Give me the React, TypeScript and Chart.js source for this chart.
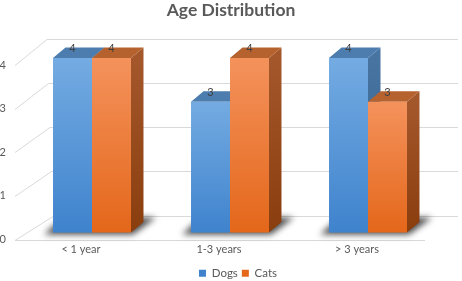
import React, { useEffect, useRef } from 'react';
import { Chart, registerables } from 'chart.js';

Chart.register(...registerables);

// ---- data ----
const chartTitle = 'Age Distribution';
const categories = ['< 1 year', '1-3 years', '> 3 years'];
const seriesNames = ['Dogs', 'Cats'];
const dogs = [4, 3, 4];
const cats = [4, 4, 3];
const yTicks = [0, 1, 2, 3, 4];
const seriesValues = [dogs, cats];

// ---- style ----
const FONT = 'Lato, "Open Sans", sans-serif';
const TEXT = '#595959';
const palettes = [
  { base: '#5b9bd5', light: '#74abe2', dark: '#3f83cd', top: '#4d7cae', sideTop: '#4874a2', sideBottom: '#325f8d' },
  { base: '#ed7d31', light: '#f4925c', dark: '#e4671a', top: '#b6622f', sideTop: '#a4572b', sideBottom: '#8a3d0d' },
];
const WALL = { dx: 41, dy: -25, persp: 1.5, yPersp: 0.5 };
const BAR_SHIFT = { dx: 11, dy: -7 };
const BAR_DEPTH = { dx: 12.5, dy: -10.5 };
const LEGEND_SHIFT = 7;

const frontFill = (i: number) => (c: any) => {
  const pal = palettes[i];
  if (c.type !== 'data') return pal.base;
  const chart = c.chart;
  const ys = chart.scales && chart.scales.y;
  if (!ys || !chart.chartArea) return pal.base;
  const top = ys.getPixelForValue(c.raw);
  const bottom = ys.getPixelForValue(0);
  const g = chart.ctx.createLinearGradient(0, top, 0, bottom);
  g.addColorStop(0, pal.light);
  g.addColorStop(1, pal.dark);
  return g;
};

const bar3d = {
  id: 'bar3d',
  afterLayout(chart: any) {
    const lg = chart.legend;
    if (lg) {
      lg.left += LEGEND_SHIFT;
      lg.right += LEGEND_SHIFT;
    }
  },
  beforeDatasetsDraw(chart: any) {
    const { ctx, chartArea: a } = chart;
    const ys = chart.scales.y;
    ctx.save();
    ctx.strokeStyle = '#d9d9d9';
    ctx.lineWidth = 1;
    yTicks.forEach((v) => {
      const fy = Math.round(ys.getPixelForValue(v)) + 0.5;
      const by = Math.round(fy + WALL.dy - v * WALL.yPersp) + 0.5;
      const bx = a.left + WALL.dx - WALL.persp * v;
      ctx.beginPath();
      ctx.moveTo(a.left + 3, fy);
      ctx.lineTo(bx, by);
      ctx.lineTo(chart.width - 4, by);
      ctx.stroke();
    });
    const y0 = Math.round(ys.getPixelForValue(0)) + 0.5;
    ctx.beginPath();
    ctx.moveTo(a.left + 3, y0);
    ctx.lineTo(a.right - 1, y0);
    ctx.stroke();
    ctx.restore();

    ctx.save();
    ctx.translate(BAR_SHIFT.dx, BAR_SHIFT.dy);
    const metas = seriesValues.map((_, i) => chart.getDatasetMeta(i));
    // shadows
    categories.forEach((_, j) => {
      let x0 = Infinity, x1 = -Infinity, base = 0;
      metas.forEach((m: any) => {
        const el = m.data[j];
        if (!el) return;
        const p = el.getProps(['x', 'width', 'base'], true);
        x0 = Math.min(x0, p.x - p.width / 2);
        x1 = Math.max(x1, p.x + p.width / 2);
        base = p.base;
      });
      ctx.save();
      ctx.filter = 'blur(3px)';
      ctx.fillStyle = 'rgba(0,0,0,0.7)';
      ctx.beginPath();
      ctx.moveTo(x0 - 9, base + 2);
      ctx.lineTo(x1 + 2, base + 2);
      ctx.lineTo(x1 + 25, base - 15);
      ctx.lineTo(x0 + 10, base - 15);
      ctx.closePath();
      ctx.fill();
      ctx.restore();
    });
    // side and top faces
    metas.forEach((m: any, i: number) => {
      const pal = palettes[i];
      m.data.forEach((el: any) => {
        const { x, y: top, width, base } = el.getProps(['x', 'y', 'width', 'base'], true);
        const l = x - width / 2;
        const r = x + width / 2;
        const { dx, dy } = BAR_DEPTH;
        const sg = ctx.createLinearGradient(0, top, 0, base);
        sg.addColorStop(0, pal.sideTop);
        sg.addColorStop(1, pal.sideBottom);
        ctx.fillStyle = sg;
        ctx.beginPath();
        ctx.moveTo(r, top);
        ctx.lineTo(r + dx, top + dy);
        ctx.lineTo(r + dx, base + dy);
        ctx.lineTo(r, base);
        ctx.closePath();
        ctx.fill();
        ctx.fillStyle = pal.top;
        ctx.beginPath();
        ctx.moveTo(l, top);
        ctx.lineTo(l + dx, top + dy);
        ctx.lineTo(r + dx, top + dy);
        ctx.lineTo(r, top);
        ctx.closePath();
        ctx.fill();
      });
    });
  },
  afterDatasetsDraw(chart: any) {
    const { ctx } = chart;
    ctx.font = `11px ${FONT}`;
    ctx.fillStyle = '#404040';
    ctx.textAlign = 'center';
    ctx.textBaseline = 'alphabetic';
    seriesValues.forEach((vals, i) => {
      const m = chart.getDatasetMeta(i);
      m.data.forEach((el: any, j: number) => {
        const { x, y } = el.getProps(['x', 'y'], true);
        ctx.fillText(String(vals[j]), x, y - 6);
      });
    });
    ctx.restore();
  },
};

export default function App() {
  const ref = useRef<HTMLCanvasElement>(null);
  useEffect(() => {
    const chart = new Chart(ref.current as HTMLCanvasElement, {
      type: 'bar',
      data: {
        labels: categories,
        datasets: seriesValues.map((vals, i) => ({
          label: seriesNames[i],
          data: vals,
          backgroundColor: frontFill(i) as any,
          borderWidth: 0,
          categoryPercentage: 0.565,
          barPercentage: 1,
          clip: false as any,
        })),
      },
      options: {
        responsive: false,
        animation: false,
        events: [],
        layout: { padding: { top: 0, left: 0, right: 0, bottom: -8 } },
        plugins: {
          title: {
            display: true,
            text: chartTitle,
            color: TEXT,
            font: { family: FONT, size: 17.5, weight: 'bold' },
            padding: { top: 0, bottom: 44 },
          },
          legend: {
            position: 'bottom',
            labels: {
              boxWidth: 7,
              boxHeight: 7,
              color: TEXT,
              font: { family: FONT, size: 11.5 },
              padding: 4,
            },
          },
          tooltip: { enabled: false },
        },
        scales: {
          x: {
            grid: { display: false, drawTicks: false },
            border: { display: false },
            ticks: { color: TEXT, font: { family: FONT, size: 11 }, padding: 3, maxRotation: 0 },
            afterFit: (s: any) => { s.height = 24; },
          },
          y: {
            min: 0,
            max: 4,
            grid: { display: false, drawTicks: false },
            border: { display: false },
            ticks: { stepSize: 1, color: TEXT, font: { family: FONT, size: 11 }, padding: 6 },
            afterFit: (s: any) => { s.width = 12; },
          },
          yR: {
            type: 'linear',
            position: 'right',
            grid: { display: false, drawTicks: false },
            border: { display: false },
            ticks: { display: false },
            afterFit: (s: any) => { s.width = 36; },
          },
        },
      } as any,
      plugins: [bar3d],
    });
    return () => chart.destroy();
  }, []);
  return (
    <div style={{ position: 'absolute', left: 0, top: 0, width: 462, height: 281, background: '#fff' }}>
      <canvas ref={ref} width={462} height={281} style={{ display: 'block' }} />
    </div>
  );
}
